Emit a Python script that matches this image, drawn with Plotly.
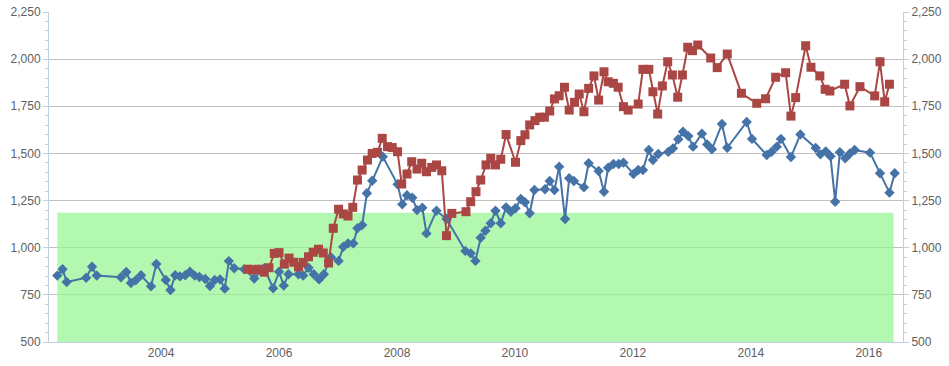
import plotly.graph_objects as go

# ---- data (decimal years) ----
blue_x = [2002.24, 2002.33, 2002.40, 2002.73, 2002.83, 2002.91, 2003.32, 2003.41, 2003.49, 2003.57,
          2003.66, 2003.83, 2003.92, 2004.08, 2004.16, 2004.24, 2004.32, 2004.41, 2004.49, 2004.57,
          2004.65, 2004.75, 2004.83, 2004.91, 2005.00, 2005.08, 2005.15, 2005.24, 2005.41, 2005.58,
          2005.75, 2005.90, 2006.00, 2006.08, 2006.16, 2006.33, 2006.41, 2006.50, 2006.59, 2006.68,
          2006.76, 2006.88, 2007.01, 2007.09, 2007.17, 2007.26, 2007.33, 2007.41, 2007.49, 2007.58,
          2007.76, 2008.01, 2008.09, 2008.17, 2008.26, 2008.34, 2008.43, 2008.50, 2008.67, 2008.84,
          2009.16, 2009.25, 2009.33, 2009.42, 2009.50, 2009.59, 2009.67, 2009.76, 2009.85, 2009.93,
          2010.01, 2010.10, 2010.17, 2010.25, 2010.33, 2010.51, 2010.59, 2010.67, 2010.75, 2010.85,
          2010.92, 2011.00, 2011.17, 2011.25, 2011.42, 2011.51, 2011.58, 2011.67, 2011.76, 2011.84,
          2012.01, 2012.09, 2012.17, 2012.27, 2012.34, 2012.43, 2012.60, 2012.68, 2012.77, 2012.85,
          2012.94, 2013.02, 2013.17, 2013.26, 2013.34, 2013.51, 2013.60, 2013.93, 2014.02, 2014.27,
          2014.35, 2014.44, 2014.51, 2014.68, 2014.84, 2015.10, 2015.18, 2015.27, 2015.35, 2015.43,
          2015.51, 2015.60, 2015.68, 2015.76, 2016.02, 2016.19, 2016.35, 2016.44]
blue_y = [852, 886, 818, 841, 899, 852, 843, 871, 813, 827,
          854, 795, 914, 829, 776, 854, 848, 854, 873, 852,
          845, 834, 797, 829, 832, 783, 929, 891, 886, 837,
          892, 785, 873, 799, 859, 859, 852, 894, 859, 832,
          859, 950, 930, 1005, 1023, 1023, 1103, 1120, 1289, 1355,
          1483, 1336, 1230, 1278, 1265, 1200, 1212, 1076, 1196, 1152,
          983, 970, 930, 1053, 1090, 1130, 1196, 1130, 1214, 1191,
          1209, 1258, 1241, 1183, 1306, 1310, 1354, 1306, 1430, 1152,
          1368, 1354, 1320, 1448, 1407, 1297, 1424, 1444, 1444, 1451,
          1391, 1412, 1412, 1518, 1465, 1497, 1508, 1527, 1575, 1615,
          1592, 1536, 1605, 1548, 1522, 1656, 1530, 1667, 1577, 1492,
          1508, 1536, 1577, 1481, 1601, 1529, 1495, 1511, 1485, 1244,
          1506, 1474, 1500, 1518, 1504, 1395, 1292, 1395]

red_x = [2005.48, 2005.56, 2005.65, 2005.75, 2005.83, 2005.92, 2006.00, 2006.09, 2006.17, 2006.25,
         2006.33, 2006.41, 2006.50, 2006.58, 2006.67, 2006.75, 2006.84, 2006.92, 2007.01, 2007.09,
         2007.17, 2007.25, 2007.33, 2007.41, 2007.50, 2007.58, 2007.67, 2007.75, 2007.84, 2007.92,
         2008.01, 2008.08, 2008.17, 2008.25, 2008.34, 2008.42, 2008.50, 2008.59, 2008.67, 2008.76,
         2008.84, 2008.93, 2009.17, 2009.25, 2009.34, 2009.42, 2009.51, 2009.59, 2009.67, 2009.76,
         2009.85, 2010.01, 2010.10, 2010.17, 2010.25, 2010.34, 2010.42, 2010.50, 2010.59, 2010.67,
         2010.75, 2010.84, 2010.92, 2011.01, 2011.09, 2011.17, 2011.25, 2011.34, 2011.42, 2011.51,
         2011.58, 2011.67, 2011.75, 2011.84, 2011.92, 2012.09, 2012.17, 2012.27, 2012.34, 2012.42,
         2012.50, 2012.59, 2012.67, 2012.76, 2012.84, 2012.93, 2013.01, 2013.10, 2013.32, 2013.43,
         2013.60, 2013.84, 2014.10, 2014.25, 2014.42, 2014.59, 2014.68, 2014.76, 2014.93, 2015.02,
         2015.17, 2015.26, 2015.34, 2015.59, 2015.68, 2015.85, 2016.10, 2016.19, 2016.27, 2016.35]
red_y = [886, 882, 886, 870, 894, 970, 974, 913, 945, 923,
         898, 922, 952, 976, 992, 972, 919, 1103, 1204, 1179,
         1168, 1214, 1359, 1412, 1465, 1500, 1506, 1580, 1536, 1531,
         1509, 1338, 1391, 1456, 1417, 1448, 1403, 1426, 1439, 1408,
         1064, 1182, 1191, 1244, 1297, 1359, 1439, 1474, 1439, 1469,
         1600, 1453, 1568, 1599, 1651, 1674, 1692, 1692, 1725, 1789,
         1806, 1851, 1730, 1771, 1815, 1721, 1845, 1911, 1783, 1933,
         1880, 1872, 1851, 1748, 1730, 1762, 1946, 1946, 1827, 1709,
         1858, 1986, 1916, 1798, 1916, 2063, 2045, 2075, 2006, 1955,
         2027, 1819, 1766, 1790, 1904, 1928, 1698, 1796, 2071, 1957,
         1911, 1840, 1831, 1867, 1752, 1854, 1805, 1986, 1774, 1867]

band_x = [2002.24, 2016.42]
band_y = [1185, 1185]

y_ticks = [500, 750, 1000, 1250, 1500, 1750, 2000, 2250]
x_ticks = [2004, 2006, 2008, 2010, 2012, 2014, 2016]

BLUE = "#4572A7"
RED = "#AA4643"
AXIS = "#C0D0E0"
FONT = "Liberation Sans, Arial, sans-serif"
TXT = "#606060"

fig = go.Figure()
fig.add_trace(go.Scatter(x=band_x, y=band_y, mode="lines", fill="tozeroy",
                         line=dict(width=0, color="rgba(150,245,145,0.75)"),
                         fillcolor="rgba(150,245,145,0.72)", hoverinfo="skip"))
fig.add_trace(go.Scatter(x=blue_x, y=blue_y, mode="lines+markers",
                         line=dict(color=BLUE, width=2),
                         marker=dict(symbol="diamond", size=8, color=BLUE)))
fig.add_trace(go.Scatter(x=red_x, y=red_y, mode="lines+markers",
                         line=dict(color=RED, width=2),
                         marker=dict(symbol="square", size=9, color=RED)))
# invisible trace to anchor right axis
fig.add_trace(go.Scatter(x=[blue_x[0]], y=[blue_y[0]], yaxis="y2", mode="markers",
                         marker=dict(opacity=0), hoverinfo="skip"))

yax = dict(range=[500, 2250], tickvals=y_ticks, tickformat=",d", automargin=False,
           showline=True, linecolor=AXIS, linewidth=1,
           ticks="outside", ticklen=5, tickcolor=AXIS,
           minor=dict(dtick=50, tick0=500, ticks="outside", ticklen=3, tickcolor=AXIS, showgrid=False),
           tickfont=dict(family=FONT, size=12, color=TXT), zeroline=False)

fig.update_layout(
    width=949, height=366,
    margin=dict(l=49, r=46, t=12, b=24),
    paper_bgcolor="white", plot_bgcolor="white",
    showlegend=False,
    xaxis=dict(range=[2002.10, 2016.58], tickvals=x_ticks, ticktext=[str(t) for t in x_ticks],
               automargin=False, showgrid=False, showline=True, linecolor=AXIS, linewidth=1,
               zeroline=False, ticks="", tickfont=dict(family=FONT, size=12, color=TXT)),
    yaxis=dict(**yax, showgrid=True, gridcolor="#C0C0C0", gridwidth=1),
    yaxis2=dict(**yax, overlaying="y", side="right", showgrid=False),
)

fig.write_html("out.html", config={"displayModeBar": False},
               post_script="document.body.style.margin='0';")
